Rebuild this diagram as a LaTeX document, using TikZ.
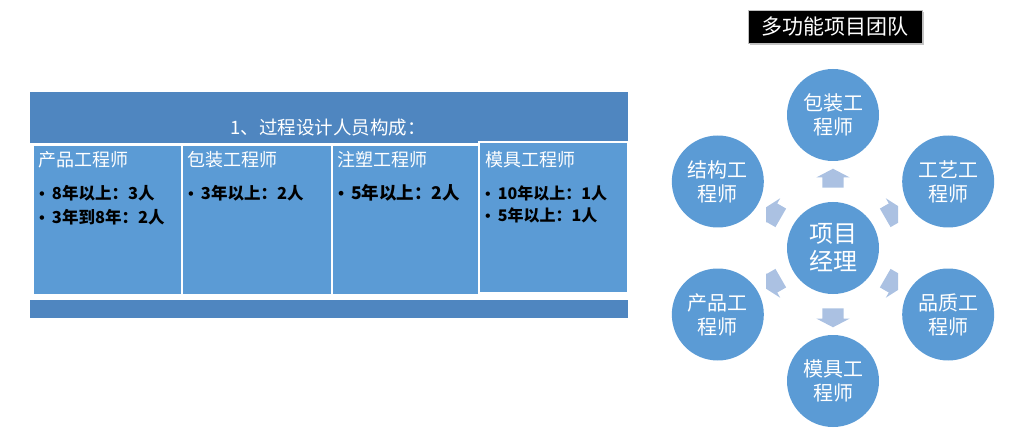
\documentclass[tikz,border=0pt]{standalone}
\usepackage{fontspec}
\usepackage{tikz}
\usetikzlibrary{shapes.arrows,shadows,positioning,calc}
\newfontfamily\cjk{Noto Sans CJK SC}
\newfontfamily\lat{Liberation Sans}
\newcommand{\bul}{{\lat\mdseries •}\hspace{7pt}}
\definecolor{hdrblue}{RGB}{79,134,192}
\definecolor{boxblue}{RGB}{91,155,213}
\definecolor{arrblue}{RGB}{171,193,226}

\begin{document}
\begin{tikzpicture}[
        x=1pt, y=1pt,
        font=\cjk,
        band/.style={fill=hdrblue},
        col/.style={draw=white, line width=1.5pt, fill=boxblue, anchor=north west, minimum width=149pt, minimum height=150pt, inner sep=0pt, outer sep=0pt},
        hd/.style={text=white, anchor=west, inner sep=0pt, font=\cjk\fontsize{18}{18}\selectfont},
        li/.style={anchor=north west, align=left, inner sep=0pt, font=\cjk\bfseries\fontsize{16.5}{24}\selectfont},
        role/.style={circle, fill=boxblue, minimum size=92pt, inner sep=0pt, text=white, align=center, font=\cjk\fontsize{20}{24}\selectfont},
        arr/.style={single arrow, fill=arrblue, inner xsep=6.5pt, inner ysep=10.5pt, single arrow head extend=6pt, single arrow tip angle=125}
    ]
        \useasboundingbox (0,0) rectangle (1020,437);
        % process design team
        \fill[band] (30,294) rectangle (628,345);
        \fill[band] (30,119) rectangle (628,137);
        \node[text=white, font=\cjk\fontsize{18.5}{18.5}\selectfont] (title) at (328,309) {1、过程设计人员构成：};
        \node[col] (b1) at (33,292) {};
        \node[col, minimum width=150pt] (b2) at (b1.north east) {};
        \node[col, minimum width=147pt] (b3) at (b2.north east) {};
        \node[col, minimum height=151pt] (b4) at ([yshift=3pt]b3.north east) {};
        \node[hd] (h1) at ([xshift=5pt,yshift=-15pt]b1.north west) {产品工程师};
        \node[hd] (h2) at ([xshift=5pt,yshift=-15pt]b2.north west) {包装工程师};
        \node[hd] (h3) at ([xshift=5pt,yshift=-15pt]b3.north west) {注塑工程师};
        \node[hd] (h4) at ([xshift=6pt,yshift=-18pt]b4.north west) {模具工程师};
        \node[li] (l1) at ([xshift=1pt,yshift=-17pt]h1.south west) {\bul 8年以上：3人\\\bul 3年到8年：2人};
        \node[li] (l2) at ([xshift=1pt,yshift=-17pt]h2.south west) {\bul 3年以上：2人};
        \node[li, font=\cjk\bfseries\fontsize{17.5}{24}\selectfont] (l3) at ([xshift=1pt,yshift=-16pt]h3.south west) {\bul 5年以上：2人};
        \node[li, font=\cjk\bfseries\fontsize{16}{22}\selectfont] (l4) at ([xshift=0pt,yshift=-17pt]h4.south west) {\bul 10年以上：1人\\\bul 5年以上：1人};
        % multi-function team
        \node[fill=black, text=white, draw=gray!50, minimum width=174pt, minimum height=33pt, drop shadow={shadow xshift=2pt, shadow yshift=-2pt, fill=black!45}, font=\cjk\fontsize{21}{21}\selectfont] (team) at (835,410.5) {多功能项目团队};
        \node[role, font=\cjk\fontsize{24}{28}\selectfont] (pm) at (833,189) {项目\\经理};
        \foreach \ang/\nm/\txt in {90/pack/包装工\\程师, 30/proc/工艺工\\程师, -30/qual/品质工\\程师, -90/mold/模具工\\程师, -150/prod/产品工\\程师, 150/stru/结构工\\程师}
            \node[role] (\nm) at ($(pm)+(\ang:133)$) {\txt};
        \begin{scope}
            \clip (766,0) rectangle (898,437);
            \foreach \ang/\nm in {90/pack, 30/proc, -30/qual, -90/mold, -150/prod, 150/stru}
                \node[arr, rotate=\ang] (a\nm) at ($(pm)+(\ang:67)$) {};
        \end{scope}
    \end{tikzpicture}
\end{document}
